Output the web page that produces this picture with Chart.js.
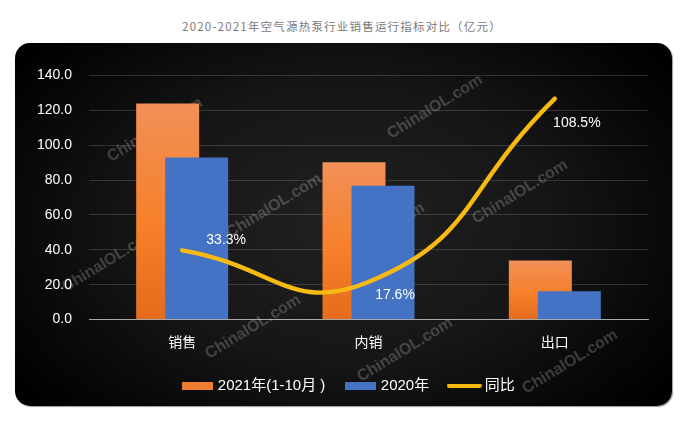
<!DOCTYPE html>
<html>
<head>
<meta charset="utf-8">
<script src="https://cdn.jsdelivr.net/npm/chart.js@4"></script>
<style>
html, body { margin: 0; padding: 0; background: #fff; overflow: hidden; }
#wrap { position: relative; width: 687px; height: 428px; }
#title { position: absolute; left: 0; width: 684px; top: 18px; text-align: center; font: 11.5px "Noto Sans CJK SC", sans-serif; line-height: 16px; letter-spacing: 1.2px; color: #7a7a7a; }
#panel { position: absolute; left: 15px; top: 43px; width: 657px; height: 363px; border-radius: 15px; background: radial-gradient(ellipse 62% 75% at 50% 50%, #212121 0%, #161616 50%, #050505 88%, #000 100%); box-shadow: 1px 1px 1px #999; }
#c { position: absolute; left: 0; top: 0; }
</style>
</head>
<body>
<div id="wrap">
  <div id="title">2020-2021年空气源热泵行业销售运行指标对比（亿元）</div>
  <div id="panel"></div>
  <canvas id="c" width="687" height="428"></canvas>
</div>
<script>
// data
const categories = ["销售", "内销", "出口"];
const value2021 = [124, 90.2, 33.8];
const value2020 = [93, 76.7, 16.2];
const tongbi = [33.3, 17.6, 108.5];
const tongbiLabels = ["33.3%", "17.6%", "108.5%"];

const fontLatin = '"Liberation Sans", "Noto Sans CJK SC", sans-serif';

// label offset from its point
const labelOffsets = [[44, -10], [26.5, 13], [22, 24]];

// watermark centres
const watermarks = [[155, 130], [435, 107], [520, 192], [274, 206], [377, 235], [110, 260], [253, 327], [405, 350], [570, 362]];

function swatch(w, h, color, round) {
    const cv = document.createElement("canvas");
    cv.width = w;
    cv.height = h;
    const g = cv.getContext("2d");
    g.fillStyle = color;
    g.beginPath();
    g.roundRect(0, 0, w, h, round ? h / 2 : 0);
    g.fill();
    return cv;
}

// gradient per bar, light at top
function barFill(stops) {
    return function (context) {
        const chart = context.chart;
        if (!chart.chartArea || !context.parsed) return stops[1];
        const yScale = chart.scales.y;
        const grad = chart.ctx.createLinearGradient(0, yScale.getPixelForValue(context.parsed.y), 0, yScale.getPixelForValue(0));
        grad.addColorStop(0, stops[0]);
        grad.addColorStop(0.55, stops[1]);
        grad.addColorStop(1, stops[2]);
        return grad;
    };
}

const watermarkPlugin = {
    id: "watermark",
    beforeDatasetsDraw(chart) {
        const ctx = chart.ctx;
        ctx.save();
        ctx.font = "bold 16px " + fontLatin;
        ctx.fillStyle = "rgba(255,255,255,0.2)";
        ctx.textAlign = "center";
        ctx.textBaseline = "middle";
        watermarks.forEach(function (p) {
            ctx.save();
            ctx.translate(p[0], p[1]);
            ctx.rotate(-31.5 * Math.PI / 180);
            ctx.fillText("ChinaIOL.com", 0, 0);
            ctx.restore();
        });
        ctx.restore();
    }
};

const pointLabelPlugin = {
    id: "pointLabel",
    afterDatasetsDraw(chart) {
        const ctx = chart.ctx;
        const points = chart.getDatasetMeta(2).data;
        ctx.save();
        ctx.font = "14px " + fontLatin;
        ctx.fillStyle = "#fff";
        ctx.textAlign = "center";
        ctx.textBaseline = "middle";
        points.forEach(function (pt, i) {
            ctx.fillText(tongbiLabels[i], pt.x + labelOffsets[i][0], pt.y + labelOffsets[i][1]);
        });
        ctx.restore();
    }
};

new Chart(document.getElementById("c"), {
    type: "bar",
    plugins: [watermarkPlugin, pointLabelPlugin],
    data: {
        labels: categories,
        datasets: [
            {
                label: "2020年",
                data: value2020,
                order: 1,
                backgroundColor: "#4472c4",
                yAxisID: "y"
            },
            {
                label: "2021年(1-10月 )",
                data: value2021,
                order: 2,
                backgroundColor: barFill(["#f19058", "#f6802b", "#e46c1c"]),
                yAxisID: "y"
            },
            {
                type: "line",
                label: "同比",
                data: tongbi,
                order: 0,
                yAxisID: "y1",
                borderColor: "#f7ba12",
                borderWidth: 4.4,
                borderCapStyle: "round",
                tension: 0.5,
                pointRadius: 0,
                fill: false
            }
        ]
    },
    options: {
        responsive: false,
        animation: false,
        // negative so the later bar sits left, keeps blue on top and to the right
        categoryPercentage: -0.3113,
        barPercentage: -2.172,
        layout: { padding: { left: 15, right: 3, top: 75.5, bottom: 25 } },
        scales: {
            x: {
                grid: { display: false },
                border: { color: "#a8a8a8", width: 1 },
                ticks: { color: "#fff", padding: 7, font: { size: 14, family: fontLatin } },
                afterFit(scale) { scale.height = 36.5; }
            },
            y: {
                min: 0,
                max: 140,
                grid: { color: "rgba(255,255,255,0.15)", drawTicks: false },
                border: { display: false },
                ticks: {
                    stepSize: 20,
                    color: "#fff",
                    padding: 17,
                    font: { size: 14, family: fontLatin },
                    callback: function (v) { return v.toFixed(1); }
                },
                afterFit(scale) { scale.width = 74; }
            },
            // no labels, the box only keeps the legend centred like the original
            y1: {
                position: "right",
                min: -1,
                max: 120,
                grid: { display: false },
                border: { display: false },
                ticks: { display: false },
                afterFit(scale) { scale.width = 36; }
            }
        },
        plugins: {
            title: { display: false },
            tooltip: { enabled: false },
            legend: {
                position: "bottom",
                labels: {
                    color: "#fff",
                    font: { size: 15, family: fontLatin },
                    usePointStyle: true,
                    pointStyleWidth: 26,
                    padding: 22,
                    generateLabels: function () {
                        return [
                            { text: "2021年(1-10月 )", pointStyle: swatch(31, 8, "#ed7d31"), fontColor: "#fff", lineWidth: 0, datasetIndex: 1 },
                            { text: "2020年", pointStyle: swatch(31, 8, "#4472c4"), fontColor: "#fff", lineWidth: 0, datasetIndex: 0 },
                            { text: "同比", pointStyle: swatch(35, 4, "#f7ba12", true), fontColor: "#fff", lineWidth: 0, datasetIndex: 2 }
                        ];
                    }
                }
            }
        }
    }
});
</script>
</body>
</html>
